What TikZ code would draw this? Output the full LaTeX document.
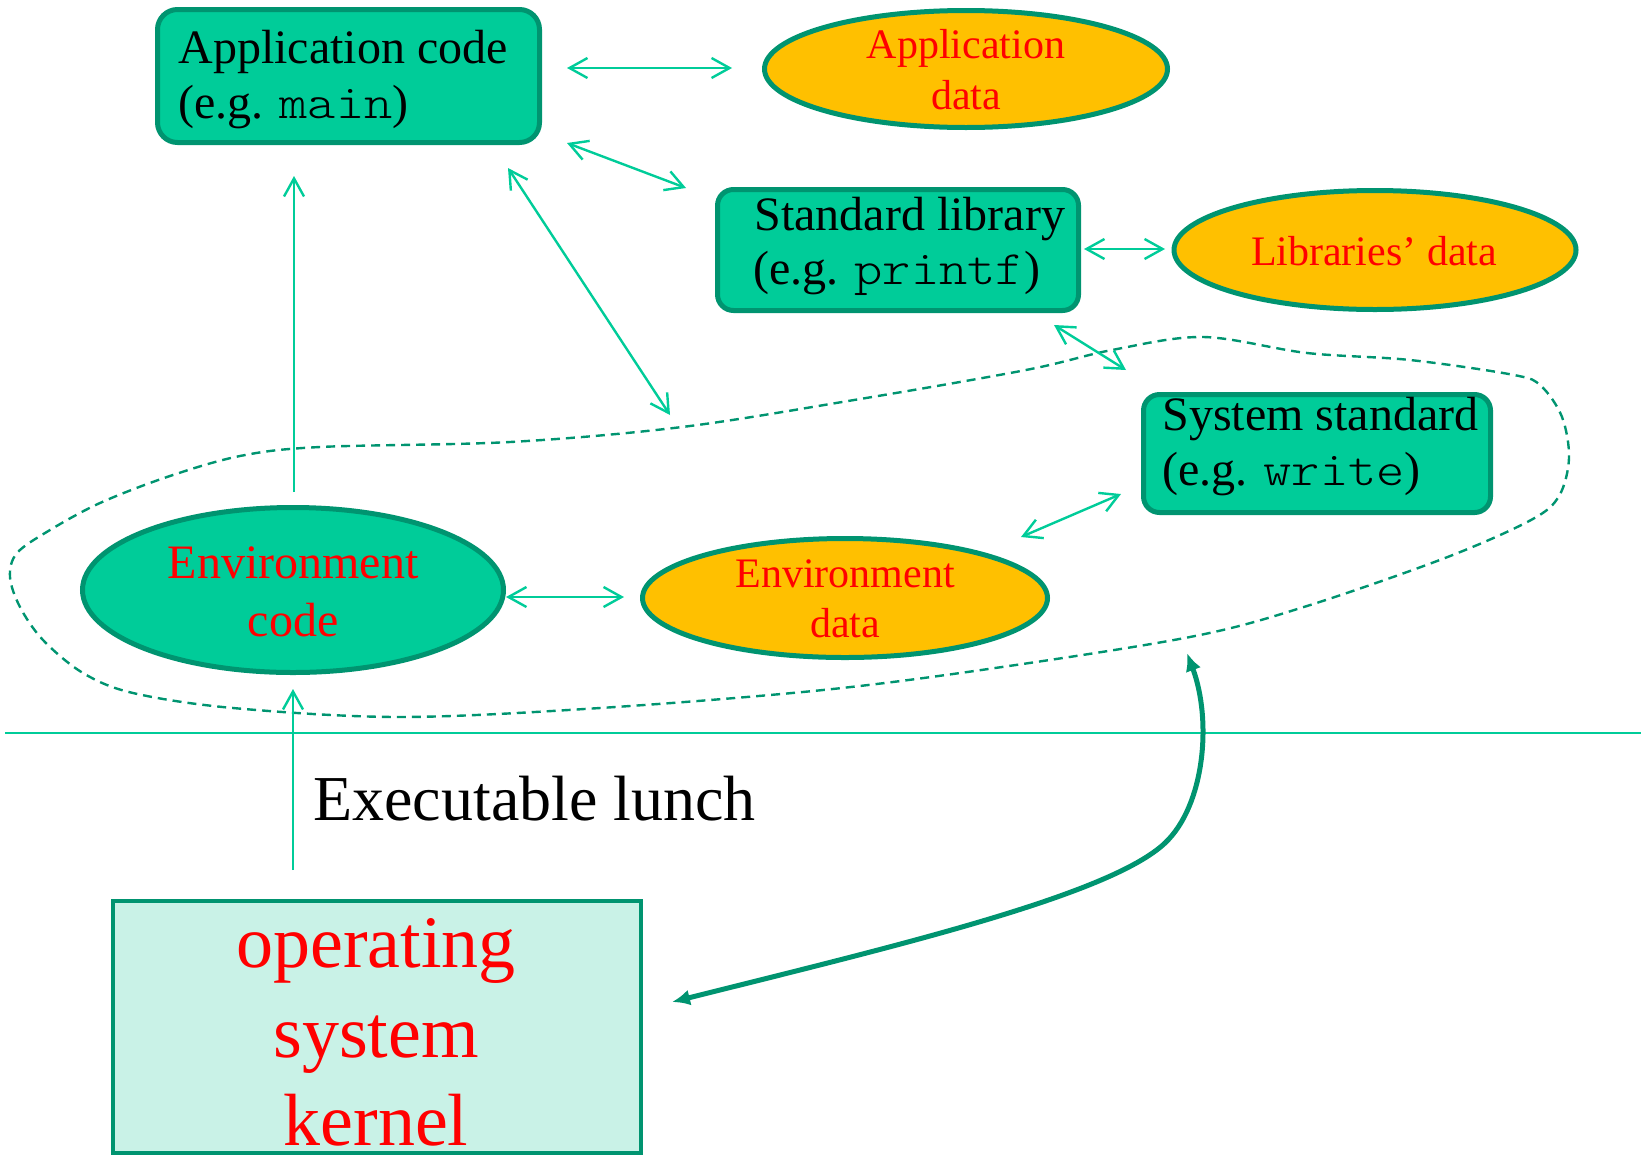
\documentclass[tikz,border=0pt]{standalone}
\usepackage{fontspec}
\setmainfont{Liberation Serif}
\setmonofont{lmmonolt10-regular.otf}[FakeStretch=1.12]
\usetikzlibrary{shapes.geometric,arrows.meta}
\definecolor{tealfill}{HTML}{00CC99}
\definecolor{tealborder}{HTML}{009470}
\definecolor{orangefill}{HTML}{FFC000}
\definecolor{kernelfill}{HTML}{C9F2E7}
\definecolor{linegreen}{HTML}{00CC99}
\definecolor{redtext}{HTML}{FF0000}
\newcommand{\fntbox}{\fontsize{24pt}{28pt}\selectfont}
\newcommand{\fntell}{\fontsize{21pt}{25pt}\selectfont}
\newcommand{\fntexe}{\fontsize{32pt}{36pt}\selectfont}
\newcommand{\fntker}{\fontsize{37pt}{44pt}\selectfont}
\tikzset{
  tb/.tip={Straight Barb[length=9pt,width=10pt]},
  tl/.tip={Latex[length=9pt,width=8pt]},
  codebox/.style={draw=tealborder, line width=2.5pt, fill=tealfill, rounded corners=10pt, inner sep=0pt},
  dataell/.style={ellipse, draw=tealborder, line width=2.5pt, fill=orangefill, inner sep=0pt},
  codeell/.style={ellipse, draw=tealborder, line width=2.5pt, fill=tealfill, inner sep=0pt},
  kernelbox/.style={draw=tealborder, line width=2pt, fill=kernelfill, inner sep=0pt},
  boxtext/.style={anchor=base west, inner sep=0pt, font=\fntbox, text=black},
  elltext/.style={anchor=base, inner sep=0pt, font=\fntell, text=redtext},
  thinarrow/.style={draw=linegreen, line width=1.2pt},
  thickarrow/.style={draw=tealborder, line width=2.5pt, tl-tl},
  dashcurve/.style={draw=tealborder, line width=1.2pt, dash pattern=on 4.5pt off 3pt}
}
\begin{document}
\begin{tikzpicture}[x=0.5pt,y=-0.5pt]
\useasboundingbox (0,0) rectangle (1641,1157);

% dashed boundary
\draw[dashcurve] plot[smooth cycle, tension=0.55] coordinates {
 (1203,337) (1307,353) (1410,360) (1514,375) (1541,386) (1562,417) (1569,458)
 (1559,496) (1531,520) (1445,558) (1307,606) (1195,636) (1002,667) (823,690)
 (600,708) (400,717) (233,708) (133,693) (83,673) (43,640) (20,607) (10,577)
 (17,553) (50,530) (100,503) (167,477) (240,456) (320,447) (510,442) (682,427)
 (854,400) (1026,370) (1112,350)};

% separator line
\coordinate (sepL) at (5,733);
\coordinate (sepR) at (1641,733);
\draw[draw=linegreen, line width=1pt] (sepL) -- (sepR);

% shapes
\node[codebox, minimum width=191pt, minimum height=66.5pt] (appcode) at (348.5,76) {};
\node[codebox, minimum width=180.5pt, minimum height=60.5pt, rounded corners=8pt] (stdlib) at (898,250) {};
\node[codebox, minimum width=173.5pt, minimum height=59pt, rounded corners=8pt] (sysstd) at (1317,453.5) {};
\node[dataell, minimum width=201.5pt, minimum height=58.5pt] (appdata) at (966,69) {};
\node[dataell, minimum width=201pt, minimum height=59.5pt] (libdata) at (1375,250) {};
\node[codeell, minimum width=210.5pt, minimum height=82.5pt] (envcode) at (293,590) {};
\node[dataell, minimum width=202.5pt, minimum height=59.5pt] (envdata) at (845,598) {};
\node[kernelbox, minimum width=264pt, minimum height=126pt] (kernel) at (377,1027) {};

% texts
\node[boxtext] (appcodeA) at (178,63) {Application code};
\node[boxtext] (appcodeB) at (178,118) {(e.g. \texttt{main})};
\node[boxtext] (stdlibA) at (754,230) {Standard library};
\node[boxtext] (stdlibB) at (753,284) {(e.g. \texttt{printf})};
\node[boxtext] (sysstdA) at (1162,430) {System standard};
\node[boxtext] (sysstdB) at (1162,485) {(e.g. \texttt{write})};
\node[elltext] (appdataA) at (966,58) {Application};
\node[elltext] (appdataB) at (966,109) {data};
\node[elltext] (libdataA) at (1374,265) {Libraries’ data};
\node[elltext, font=\fntbox] (envcodeA) at (293,578) {Environment};
\node[elltext, font=\fntbox] (envcodeB) at (293,636) {code};
\node[elltext] (envdataA) at (845,587) {Environment};
\node[elltext] (envdataB) at (845,637) {data};
\node[anchor=base, inner sep=0pt, font=\fntker, text=redtext] (kerA) at (376,967) {operating};
\node[anchor=base, inner sep=0pt, font=\fntker, text=redtext] (kerB) at (376,1057) {system};
\node[anchor=base, inner sep=0pt, font=\fntker, text=redtext] (kerC) at (376,1145) {kernel};
\node[anchor=base west, inner sep=0pt, font=\fntexe] (exe) at (313,820) {Executable lunch};

% arrow end points
\coordinate (a1s) at (567,68);   \coordinate (a1e) at (732,68);
\coordinate (a2s) at (567,143);  \coordinate (a2e) at (686,188);
\coordinate (a3s) at (508,168);  \coordinate (a3e) at (670,415);
\coordinate (a4s) at (1084,249); \coordinate (a4e) at (1165,249);
\coordinate (a5s) at (1054,325); \coordinate (a5e) at (1126,370);
\coordinate (a6s) at (1021,537); \coordinate (a6e) at (1121,494);
\coordinate (a7s) at (506,597);  \coordinate (a7e) at (624,597);
\coordinate (a8s) at (294,492);  \coordinate (a8e) at (294,176);
\coordinate (a9s) at (293,870);  \coordinate (a9e) at (293,689);
\coordinate (k1) at (672,1002);  \coordinate (k2) at (1165,843);  \coordinate (k3) at (1187,653);

\draw[thinarrow, tb-tb] (a1s) -- (a1e);
\draw[thinarrow, tb-tb] (a2s) -- (a2e);
\draw[thinarrow, tb-tb] (a3s) -- (a3e);
\draw[thinarrow, tb-tb] (a4s) -- (a4e);
\draw[thinarrow, tb-tb] (a5s) -- (a5e);
\draw[thinarrow, tb-tb] (a6s) -- (a6e);
\draw[thinarrow, tb-tb] (a7s) -- (a7e);
\draw[thinarrow, -tb] (a8s) -- (a8e);
\draw[thinarrow, -tb] (a9s) -- (a9e);

\draw[thickarrow] (k1) .. controls (900,945) and (1110,895) .. (k2)
                       .. controls (1205,805) and (1212,720) .. (k3);
\end{tikzpicture}
\end{document}
